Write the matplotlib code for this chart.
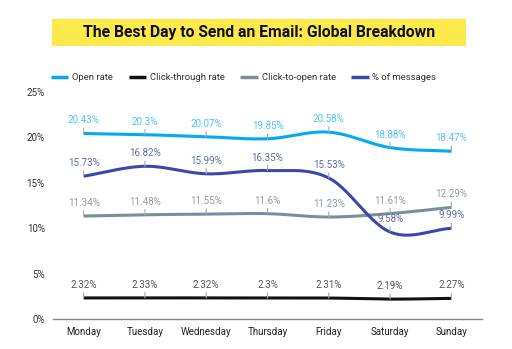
import numpy as np
import matplotlib
matplotlib.use("Agg")
import matplotlib.pyplot as plt
from matplotlib.patches import Rectangle

plt.rcParams['font.family'] = ['Roboto', 'DejaVu Sans']

days = ["Monday", "Tuesday", "Wednesday", "Thursday", "Friday", "Saturday", "Sunday"]
open_rate = [20.43, 20.3, 20.07, 19.85, 20.58, 18.88, 18.47]
click_through = [2.32, 2.33, 2.32, 2.3, 2.31, 2.19, 2.27]
click_to_open = [11.34, 11.48, 11.55, 11.6, 11.23, 11.61, 12.29]
pct_messages = [15.73, 16.82, 15.99, 16.35, 15.53, 9.58, 9.99]
yticks = [0, 5, 10, 15, 20, 25]

series = [
    ("Open rate", open_rate, "#03A9F4", "#4FC3F7"),
    ("Click-through rate", click_through, "#111111", "#555555"),
    ("Click-to-open rate", click_to_open, "#78909C", "#8E9BA8"),
    ("% of messages", pct_messages, "#3949AB", "#5C6BAA"),
]


def smooth(y, n=40):
    y = np.asarray(y, float)
    k = len(y)
    m = np.zeros(k)
    m[1:-1] = (y[2:] - y[:-2]) / 2.0
    m[0] = y[1] - y[0]
    m[-1] = y[-1] - y[-2]
    xs, ys = [], []
    for i in range(k - 1):
        t = np.linspace(0, 1, n, endpoint=(i == k - 2))
        h00 = 2 * t**3 - 3 * t**2 + 1
        h10 = t**3 - 2 * t**2 + t
        h01 = -2 * t**3 + 3 * t**2
        h11 = t**3 - t**2
        xs.append(i + t)
        ys.append(h00 * y[i] + h10 * m[i] + h01 * y[i + 1] + h11 * m[i + 1])
    return np.concatenate(xs), np.concatenate(ys)


fig = plt.figure(figsize=(5.12, 3.49), dpi=100)
W, H = 512, 349
ax = fig.add_axes([53 / W, 1 - 319 / H, (482 - 53) / W, (319 - 92) / H])

x = np.arange(len(days))
handles = []
for name, vals, col, lcol in series:
    sx, sy = smooth(vals)
    ln, = ax.plot(sx, sy, color=col, lw=2.2, solid_capstyle='butt', label=name, zorder=3)
    handles.append(ln)
    for xi, v in zip(x, vals):
        ax.annotate(f"{v:g}%", xy=(xi, v), xytext=(0, 8), textcoords='offset pixels',
                    ha='center', va='bottom', fontsize=7, color=lcol,
                    arrowprops=dict(arrowstyle='-', color='#AAAAAA', lw=0.8,
                                    shrinkA=0, shrinkB=0), zorder=4)

ax.set_xlim(-0.5, 6.5)
ax.set_ylim(0, 25)
ax.set_yticks(yticks)
ax.set_yticklabels([f"{t}%" for t in yticks], fontsize=7, color='#333333')
ax.set_xticks(x)
ax.set_xticklabels(days, fontsize=7, color='#222222')
ax.tick_params(axis='both', length=0, pad=6)
ax.tick_params(axis='y', pad=6)
for s in ['top', 'right', 'left']:
    ax.spines[s].set_visible(False)
ax.spines['bottom'].set_color('#888888')
ax.spines['bottom'].set_linewidth(1.0)

leg = fig.legend(handles=handles, loc='center left', bbox_to_anchor=(48 / W, 1 - 78 / H),
                 ncol=4, frameon=False, fontsize=6.8, handlelength=1.85, handletextpad=0.4,
                 columnspacing=1.65, labelcolor='#333333', borderaxespad=0, borderpad=0.3)
for l in leg.get_lines():
    l.set_linewidth(2.5)

fig.patches.append(Rectangle((52 / W, 1 - 46 / H), (466 - 52) / W, 27 / H,
                             transform=fig.transFigure, facecolor='#FCEA4A',
                             edgecolor='none', zorder=0))
fig.text(259 / W, 1 - 33 / H, "The Best Day to Send an Email: Global Breakdown",
         ha='center', va='center', fontsize=11.3, fontweight='bold', color='#111111')

fig.savefig("out.png", dpi=100)
